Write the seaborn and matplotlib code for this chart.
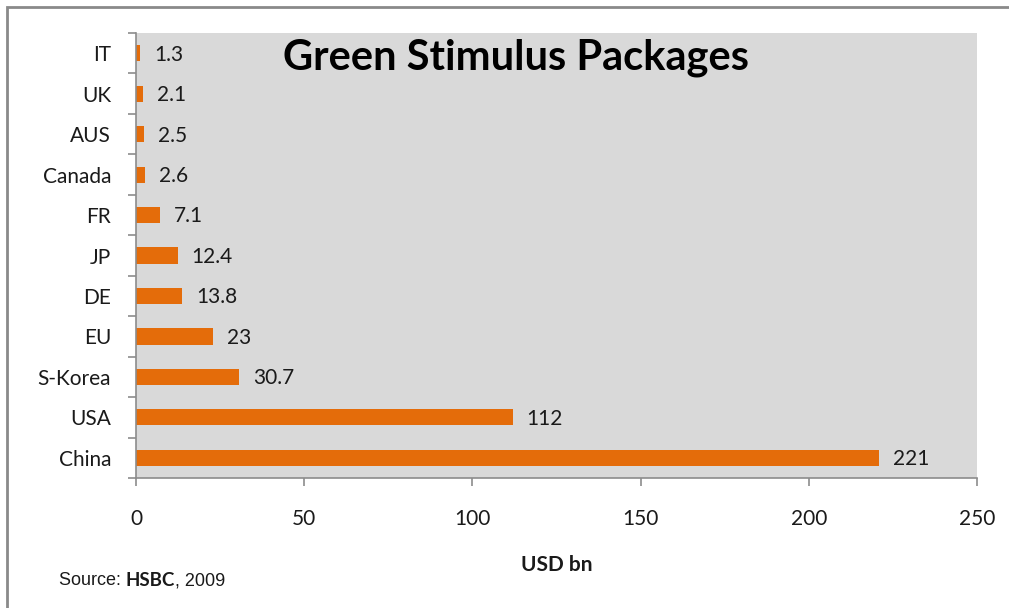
import matplotlib
matplotlib.use("Agg")
import matplotlib.pyplot as plt
from matplotlib.patches import Rectangle
from matplotlib.ticker import FixedLocator
import seaborn as sns
import pandas as pd

# Green stimulus packages by country, USD bn
countries = ["IT", "UK", "AUS", "Canada", "FR", "JP", "DE", "EU", "S-Korea", "USA", "China"]
amounts = [1.3, 2.1, 2.5, 2.6, 7.1, 12.4, 13.8, 23, 30.7, 112, 221]
amount_labels = ["1.3", "2.1", "2.5", "2.6", "7.1", "12.4", "13.8", "23", "30.7", "112", "221"]
x_ticks = [0, 50, 100, 150, 200, 250]

df = pd.DataFrame({"country": countries, "amount": amounts})

sns.set_theme(style="white")
plt.rcParams["font.family"] = ["Lato", "DejaVu Sans"]

fig = plt.figure(figsize=(10.09, 6.08), dpi=100)
ax = fig.add_axes([136 / 1009, 1 - 478 / 608, (977 - 136) / 1009, (478 - 33) / 608])

sns.barplot(data=df, x="amount", y="country", order=countries, orient="h",
            color="#E46C0A", saturation=1, width=0.4, linewidth=0, ax=ax)

ax.set_facecolor("#D9D9D9")
ax.set_xlim(0, 250)
ax.set_ylim(len(countries) - 0.5, -0.5)
ax.set_xticks(x_ticks)
ax.set_xticklabels([str(t) for t in x_ticks])

# value labels just past the end of each bar
for i, (v, lab) in enumerate(zip(amounts, amount_labels)):
    ax.annotate(lab, (v, i), xytext=(10, -1), textcoords="offset points",
                va="center", ha="left", fontsize=15, color="#1a1a1a")

# spines and ticks in the Excel style
for s in ["top", "right"]:
    ax.spines[s].set_visible(False)
for s in ["left", "bottom"]:
    ax.spines[s].set_color("#8c8c8c")
    ax.spines[s].set_linewidth(1.2)

ax.yaxis.set_minor_locator(FixedLocator([k - 0.5 for k in range(len(countries) + 1)]))
ax.tick_params(axis="y", which="major", length=0, pad=18, labelsize=15, labelcolor="#1a1a1a")
ax.tick_params(axis="y", which="minor", left=True, length=6, width=1.2, color="#8c8c8c", direction="out")
ax.tick_params(axis="x", which="major", bottom=True, length=6, width=1.2, color="#8c8c8c",
               direction="out", pad=16, labelsize=15, labelcolor="#1a1a1a")

ax.set_ylabel("")
ax.set_xlabel("USD bn", fontsize=15, fontweight="bold", labelpad=19, color="#1a1a1a")

ax.text(0.452, 0.944, "Green Stimulus Packages", transform=ax.transAxes, ha="center", va="center",
        fontsize=30, fontweight="bold", color="black")

# source note, pieces chained one after another
t1 = fig.text(59 / 1009, 1 - 585 / 608, "Source: ", family=["Liberation Sans"], fontsize=13,
              va="baseline", ha="left", color="#1a1a1a")
t2 = ax.annotate("HSBC", xy=(1, 0), xycoords=t1, va="bottom", ha="left",
                 fontsize=13.5, fontweight="bold", color="#1a1a1a", annotation_clip=False)
t3 = ax.annotate(", 2009", xy=(1, 0), xycoords=t2, va="bottom", ha="left",
                 family=["Liberation Sans"], fontsize=13, color="#1a1a1a", annotation_clip=False)

# chart frame
fig.patches.append(Rectangle((7 / 1009, -0.1), 1.1, 1 - 7 / 608 + 0.1, transform=fig.transFigure,
                             fill=False, edgecolor="#8a8a8a", linewidth=2))

fig.savefig("out.png", dpi=100)
